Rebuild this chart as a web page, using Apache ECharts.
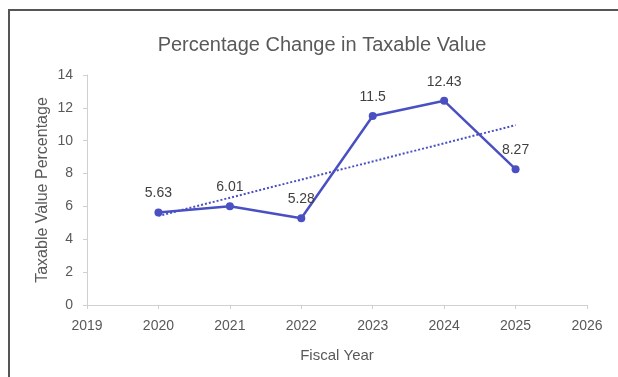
<!DOCTYPE html>
<html><head><meta charset="utf-8">
<script src="https://cdn.jsdelivr.net/npm/echarts@6/dist/echarts.min.js"></script>
<style>html,body{margin:0;padding:0;background:#fff}#c{width:618px;height:377px}</style>
</head><body><div id="c"></div>
<script>
const years = [2020, 2021, 2022, 2023, 2024, 2025];
const values = [5.63, 6.01, 5.28, 11.5, 12.43, 8.27];
const xTicks = [2019, 2020, 2021, 2022, 2023, 2024, 2025, 2026];
const yTicks = [0, 2, 4, 6, 8, 10, 12, 14];

// linear trendline (least squares) from the data
const n = years.length;
const mx = years.reduce((a, b) => a + b, 0) / n;
const my = values.reduce((a, b) => a + b, 0) / n;
let sxy = 0, sxx = 0;
for (let i = 0; i < n; i++) { sxy += (years[i] - mx) * (values[i] - my); sxx += (years[i] - mx) ** 2; }
const slope = sxy / sxx, icpt = my - slope * mx;
const trend = [years[0], years[n - 1]].map(x => [x, icpt + slope * x]);

const chart = echarts.init(document.getElementById('c'));
const font = 'Liberation Sans, Arial, sans-serif';
const blue = '#4a50c2';
chart.setOption({
  backgroundColor: '#fff',
  animation: false,
  title: {
    text: 'Percentage Change in Taxable Value', left: 317, top: 30, textAlign: 'center',
    textStyle: { fontFamily: font, fontSize: 20, fontWeight: 'normal', color: '#595959' }
  },
  graphic: [{ type: 'polyline', shape: { points: [[9, 377], [9, 10], [618, 10]] }, style: { stroke: '#555', lineWidth: 2, fill: null } }],
  grid: { left: 87, right: 31, top: 75, bottom: 72 },
  xAxis: {
    type: 'value', min: xTicks[0], max: xTicks[xTicks.length - 1], interval: 1,
    name: 'Fiscal Year', nameLocation: 'middle', nameGap: 43, nameMoveOverlap: false,
    nameTextStyle: { fontFamily: font, fontSize: 15, color: '#595959' },
    axisLine: { show: true, lineStyle: { color: '#d0d0d0', width: 1 } },
    axisTick: { show: true, length: 4, lineStyle: { color: '#d0d0d0' } },
    axisLabel: { fontFamily: font, fontSize: 14, color: '#595959', margin: 14, formatter: v => String(v) },
    splitLine: { show: false }
  },
  yAxis: {
    type: 'value', min: yTicks[0], max: yTicks[yTicks.length - 1], interval: 2,
    name: 'Taxable Value Percentage', nameLocation: 'middle', nameGap: 36, nameMoveOverlap: false,
    nameTextStyle: { fontFamily: font, fontSize: 16, color: '#595959' },
    axisLine: { show: true, lineStyle: { color: '#d0d0d0', width: 1 } },
    axisTick: { show: true, length: 4, inside: false, lineStyle: { color: '#d0d0d0' } },
    axisLabel: { fontFamily: font, fontSize: 14, color: '#595959', margin: 14 },
    splitLine: { show: false }
  },
  series: [
    {
      type: 'line', data: trend, symbol: 'none', silent: true,
      lineStyle: { color: blue, width: 2, type: [2, 2] }, z: 1
    },
    {
      type: 'line', data: years.map((y, i) => [y, values[i]]),
      symbol: 'circle', symbolSize: 8,
      lineStyle: { color: blue, width: 2.5 }, itemStyle: { color: blue },
      label: { show: true, position: 'top', distance: 8, fontFamily: font, fontSize: 14, color: '#404040',
        formatter: p => String(values[p.dataIndex]) },
      z: 2
    }
  ]
});
</script></body></html>
